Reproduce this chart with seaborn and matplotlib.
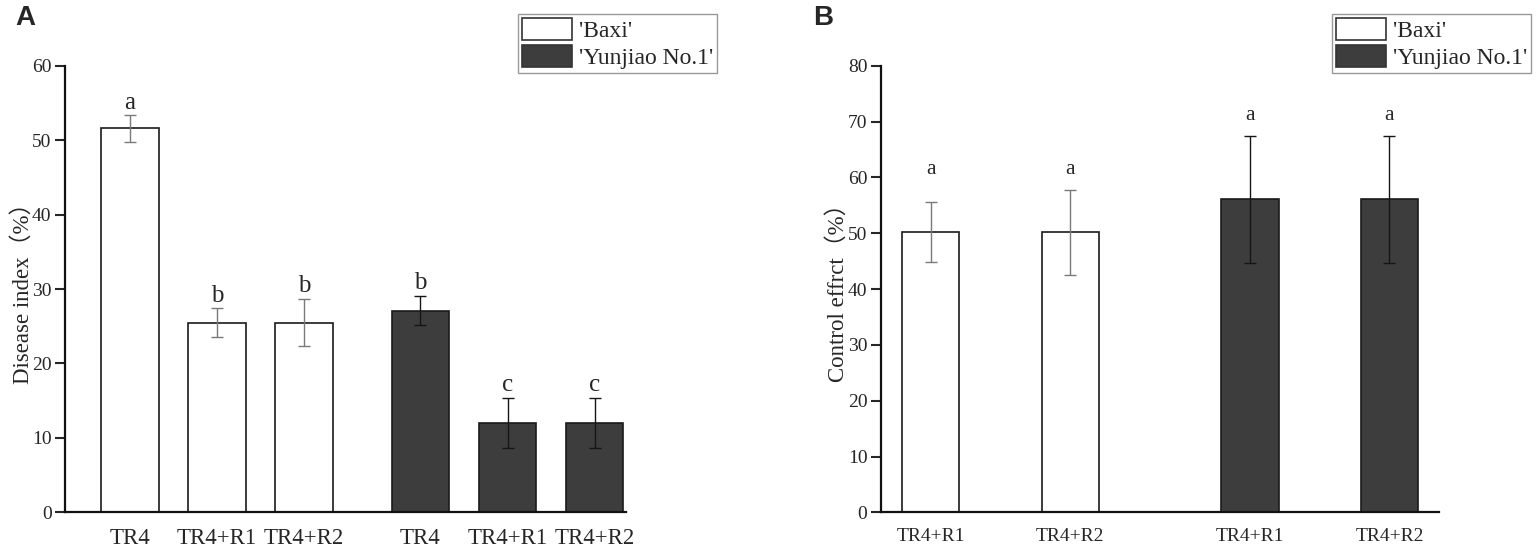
import pandas as pd
import seaborn as sns
from matplotlib import pyplot as plt
from matplotlib.patches import Patch

# Panel A: disease index
a_treatments = ['TR4', 'TR4+R1', 'TR4+R2', 'TR4', 'TR4+R1', 'TR4+R2']
a_cultivars = ["'Baxi'"] * 3 + ["'Yunjiao No.1'"] * 3
a_values = [51.6, 25.5, 25.5, 27.1, 12.0, 12.0]
a_errors = [1.8, 1.9, 3.2, 2.0, 3.4, 3.4]
a_letters = ['a', 'b', 'b', 'b', 'c', 'c']

# Panel B: control effect
b_treatments = ['TR4+R1', 'TR4+R2', 'TR4+R1', 'TR4+R2']
b_cultivars = ["'Baxi'"] * 2 + ["'Yunjiao No.1'"] * 2
b_values = [50.2, 50.2, 56.1, 56.1]
b_errors = [5.4, 7.6, 11.4, 11.4]
b_letters = ['a', 'a', 'a', 'a']

CULTIVARS = ["'Baxi'", "'Yunjiao No.1'"]
PALETTE = {"'Baxi'": 'white', "'Yunjiao No.1'": '#3d3d3d'}
ECOLORS = {"'Baxi'": '#7a7a7a', "'Yunjiao No.1'": '#151515'}

sns.set_style('ticks')
plt.rcParams['font.family'] = ['Liberation Serif', 'Noto Sans CJK SC']


def make_frame(treatments, cultivars, values, errors, letters, gap):
    df = pd.DataFrame({
        'treatment': treatments,
        'cultivar': cultivars,
        'value': values,
        'err': errors,
        'letter': letters,
    })
    # place bars group by group, with a wider gap between cultivars
    pos = []
    for g, cv in enumerate(CULTIVARS):
        n = (df['cultivar'] == cv).sum()
        start = g * (n - 1 + gap)
        pos += [start + i for i in range(n)]
    df['pos'] = pos
    return df


def draw_panel(ax, df, width, ylim, ylabel, xtick_size, xlim, label_x):
    sns.barplot(
        data=df, x='pos', y='value', hue='cultivar', hue_order=CULTIVARS,
        palette=PALETTE, native_scale=True, dodge=False, width=width,
        errorbar=None, edgecolor='#1a1a1a', linewidth=1.2, legend=False,
        ax=ax
    )
    for cv in CULTIVARS:
        sub = df[df['cultivar'] == cv]
        ax.errorbar(
            sub['pos'], sub['value'], yerr=sub['err'], fmt='none',
            ecolor=ECOLORS[cv], elinewidth=1.0, capsize=4, capthick=1.0,
            zorder=5
        )
    ax.set_xlim(*xlim)
    ax.set_ylim(*ylim)
    ax.set_yticks(range(ylim[0], ylim[1] + 1, 10))
    ax.set_xticks(df['pos'], df['treatment'])
    ax.set_xlabel('')
    ax.set_ylabel(ylabel, fontsize=16.5)
    ax.yaxis.set_label_coords(label_x, 0.503)
    ax.tick_params(axis='y', direction='out', length=7, width=1.5,
                   labelsize=14, pad=3)
    ax.tick_params(axis='x', length=0, labelsize=xtick_size, pad=11)
    sns.despine(ax=ax)
    for side in ['left', 'bottom']:
        ax.spines[side].set_linewidth(1.6)
        ax.spines[side].set_color('#111111')


def add_legend(ax, fig, x0):
    handles = [
        Patch(facecolor=PALETTE[cv], edgecolor='#333333', linewidth=1.2)
        for cv in CULTIVARS
    ]
    leg = ax.legend(
        handles, CULTIVARS, loc='upper left',
        bbox_to_anchor=(x0, 1 - 14 / 557), bbox_transform=fig.transFigure,
        fontsize=17, frameon=True, fancybox=False, framealpha=1,
        handlelength=2.1, handleheight=1.05, handletextpad=0.3,
        labelspacing=0.12, borderpad=0.18, borderaxespad=0
    )
    leg.get_frame().set_edgecolor('#999999')
    leg.get_frame().set_linewidth(1.0)


fig = plt.figure(figsize=(15.36, 5.57), dpi=100)
ax_a = fig.add_axes([0.0426, 0.0802, 0.3647, 0.8018])
ax_b = fig.add_axes([0.5738, 0.0802, 0.3633, 0.8018])

df_a = make_frame(a_treatments, a_cultivars, a_values, a_errors, a_letters, 1.335)
df_b = make_frame(b_treatments, b_cultivars, b_values, b_errors, b_letters, 1.289)

draw_panel(ax_a, df_a, 0.66, (0, 60), 'Disease index（%）', 16.5,
           (-0.74, 5.69), -0.056)
draw_panel(ax_b, df_b, 0.41, (0, 80), 'Control effrct（%）', 14,
           (-0.353, 3.647), -0.058)

# significance letters: A just above each error bar
for _, row in df_a.iterrows():
    ax_a.annotate(row['letter'], (row['pos'], row['value'] + row['err']),
                  xytext=(0, 4.5), textcoords='offset points',
                  ha='center', va='baseline', fontsize=18)

# B: letters at a common height per cultivar
for cv in CULTIVARS:
    sub = df_b[df_b['cultivar'] == cv]
    top = (sub['value'] + sub['err']).max()
    for _, row in sub.iterrows():
        ax_b.annotate(row['letter'], (row['pos'], top),
                      xytext=(0, 11.5), textcoords='offset points',
                      ha='center', va='baseline', fontsize=15.5)

add_legend(ax_a, fig, 518 / 1536)
add_legend(ax_b, fig, 1332 / 1536)

for x, lab in [(15, 'A'), (813, 'B')]:
    fig.text(x / 1536, 1 - 25 / 557, lab, ha='left', va='baseline',
             family='Liberation Sans', weight='bold', fontsize=20)

fig.savefig('out.png', dpi=100)
